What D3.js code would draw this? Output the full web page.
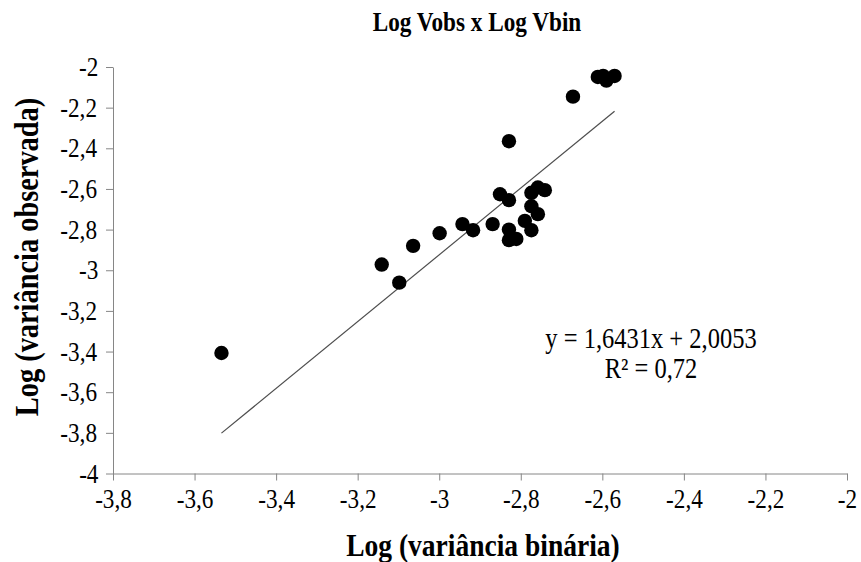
<!DOCTYPE html>
<html>

<head>
    <meta charset="utf-8">
    <title>Log Vobs x Log Vbin</title>
    <script src="https://cdn.jsdelivr.net/npm/d3@7"></script>
    <style>
        body {
            margin: 0;
            background: #fff;
        }

        svg {
            font-family: "Liberation Serif", "Times New Roman", serif;
        }

        /* the reference type is slightly narrower than Liberation Serif */
        svg text {
            transform-box: fill-box;
            transform-origin: center;
            transform: scaleX(0.86);
        }

        .axis path,
        .axis line {
            stroke: #868686;
        }

        .axis text {
            font-size: 27px;
            fill: #000;
            font-family: "Liberation Serif", "Times New Roman", serif;
        }
    </style>
</head>

<body>
    <script>
        // Log of binary variance (x) and log of observed variance (y)
        const logVbin = [-3.534, -3.141, -3.098, -3.064, -2.999, -2.943, -2.917, -2.869, -2.851, -2.829,
            -2.829, -2.829, -2.811, -2.790, -2.774, -2.774, -2.758, -2.774, -2.758, -2.741,
            -2.829, -2.672, -2.611, -2.598, -2.590, -2.570];
        const logVobs = [-3.407, -2.972, -3.061, -2.880, -2.818, -2.773, -2.803, -2.773, -2.626, -2.655,
            -2.800, -2.852, -2.846, -2.757, -2.803, -2.685, -2.724, -2.619, -2.593, -2.606,
            -2.365, -2.146, -2.049, -2.044, -2.067, -2.044];

        // Linear trend line shown on the chart
        const slope = 1.6431;
        const intercept = 2.0053;
        const r2 = 0.72;

        const xTicks = [-3.8, -3.6, -3.4, -3.2, -3, -2.8, -2.6, -2.4, -2.2, -2];
        const yTicks = [-4, -3.8, -3.6, -3.4, -3.2, -3, -2.8, -2.6, -2.4, -2.2, -2];

        const width = 861;
        const height = 562;
        const margin = { top: 67, right: 14, bottom: 88.5, left: 113 };

        const svg = d3.select('body')
            .append('svg')
            .attr('width', width)
            .attr('height', height);

        const xScale = d3.scaleLinear()
            .domain([-3.8, -2])
            .range([margin.left, width - margin.right]);

        const yScale = d3.scaleLinear()
            .domain([-4, -2])
            .range([height - margin.bottom, margin.top]);

        const fmt = d => String(+d.toFixed(1)).replace('.', ',');

        // Axes
        svg.append('g')
            .attr('class', 'axis')
            .attr('transform', `translate(0, ${yScale(-4)})`)
            .call(d3.axisBottom(xScale).tickValues(xTicks).tickFormat(fmt).tickSize(7).tickSizeOuter(0).tickPadding(8));

        svg.append('g')
            .attr('class', 'axis')
            .attr('transform', `translate(${xScale(-3.8)}, 0)`)
            .call(d3.axisLeft(yScale).tickValues(yTicks).tickFormat(fmt).tickSize(7).tickSizeOuter(0).tickPadding(6));

        // Trend line
        const xMin = d3.min(logVbin);
        const xMax = d3.max(logVbin);
        svg.append('line')
            .attr('x1', xScale(xMin))
            .attr('y1', yScale(slope * xMin + intercept))
            .attr('x2', xScale(xMax))
            .attr('y2', yScale(slope * xMax + intercept))
            .attr('stroke', '#4d4d4d')
            .attr('stroke-width', 1.2);

        // Points
        svg.selectAll('.dot')
            .data(d3.zip(logVbin, logVobs))
            .enter()
            .append('circle')
            .attr('class', 'dot')
            .attr('cx', d => xScale(d[0]))
            .attr('cy', d => yScale(d[1]))
            .attr('r', 7.2)
            .attr('fill', '#000');

        function fmt4(v) {
            return v.toFixed(4).replace('.', ',');
        }

        // Equation and R²
        svg.append('text')
            .attr('x', 651)
            .attr('y', 348)
            .attr('text-anchor', 'middle')
            .style('font-size', '28.5px')
            .text(`y = ${fmt4(slope)}x + ${fmt4(intercept)}`);

        svg.append('text')
            .attr('x', 651)
            .attr('y', 378)
            .attr('text-anchor', 'middle')
            .style('font-size', '28.5px')
            .text(`R² = ${String(r2).replace('.', ',')}`);

        // Title
        svg.append('text')
            .attr('x', 477)
            .attr('y', 31)
            .attr('text-anchor', 'middle')
            .style('font-size', '27px')
            .style('font-weight', 'bold')
            .text('Log Vobs x Log Vbin');

        // Axis titles
        svg.append('text')
            .attr('x', 483)
            .attr('y', 556)
            .attr('text-anchor', 'middle')
            .style('font-size', '32px')
            .style('font-weight', 'bold')
            .text('Log (variância binária)');

        svg.append('g')
            .attr('transform', 'rotate(-90)')
            .append('text')
            .attr('x', -257)
            .attr('y', 38)
            .attr('text-anchor', 'middle')
            .style('font-size', '33px')
            .style('font-weight', 'bold')
            .text('Log (variância observada)');
    </script>
</body>

</html>
